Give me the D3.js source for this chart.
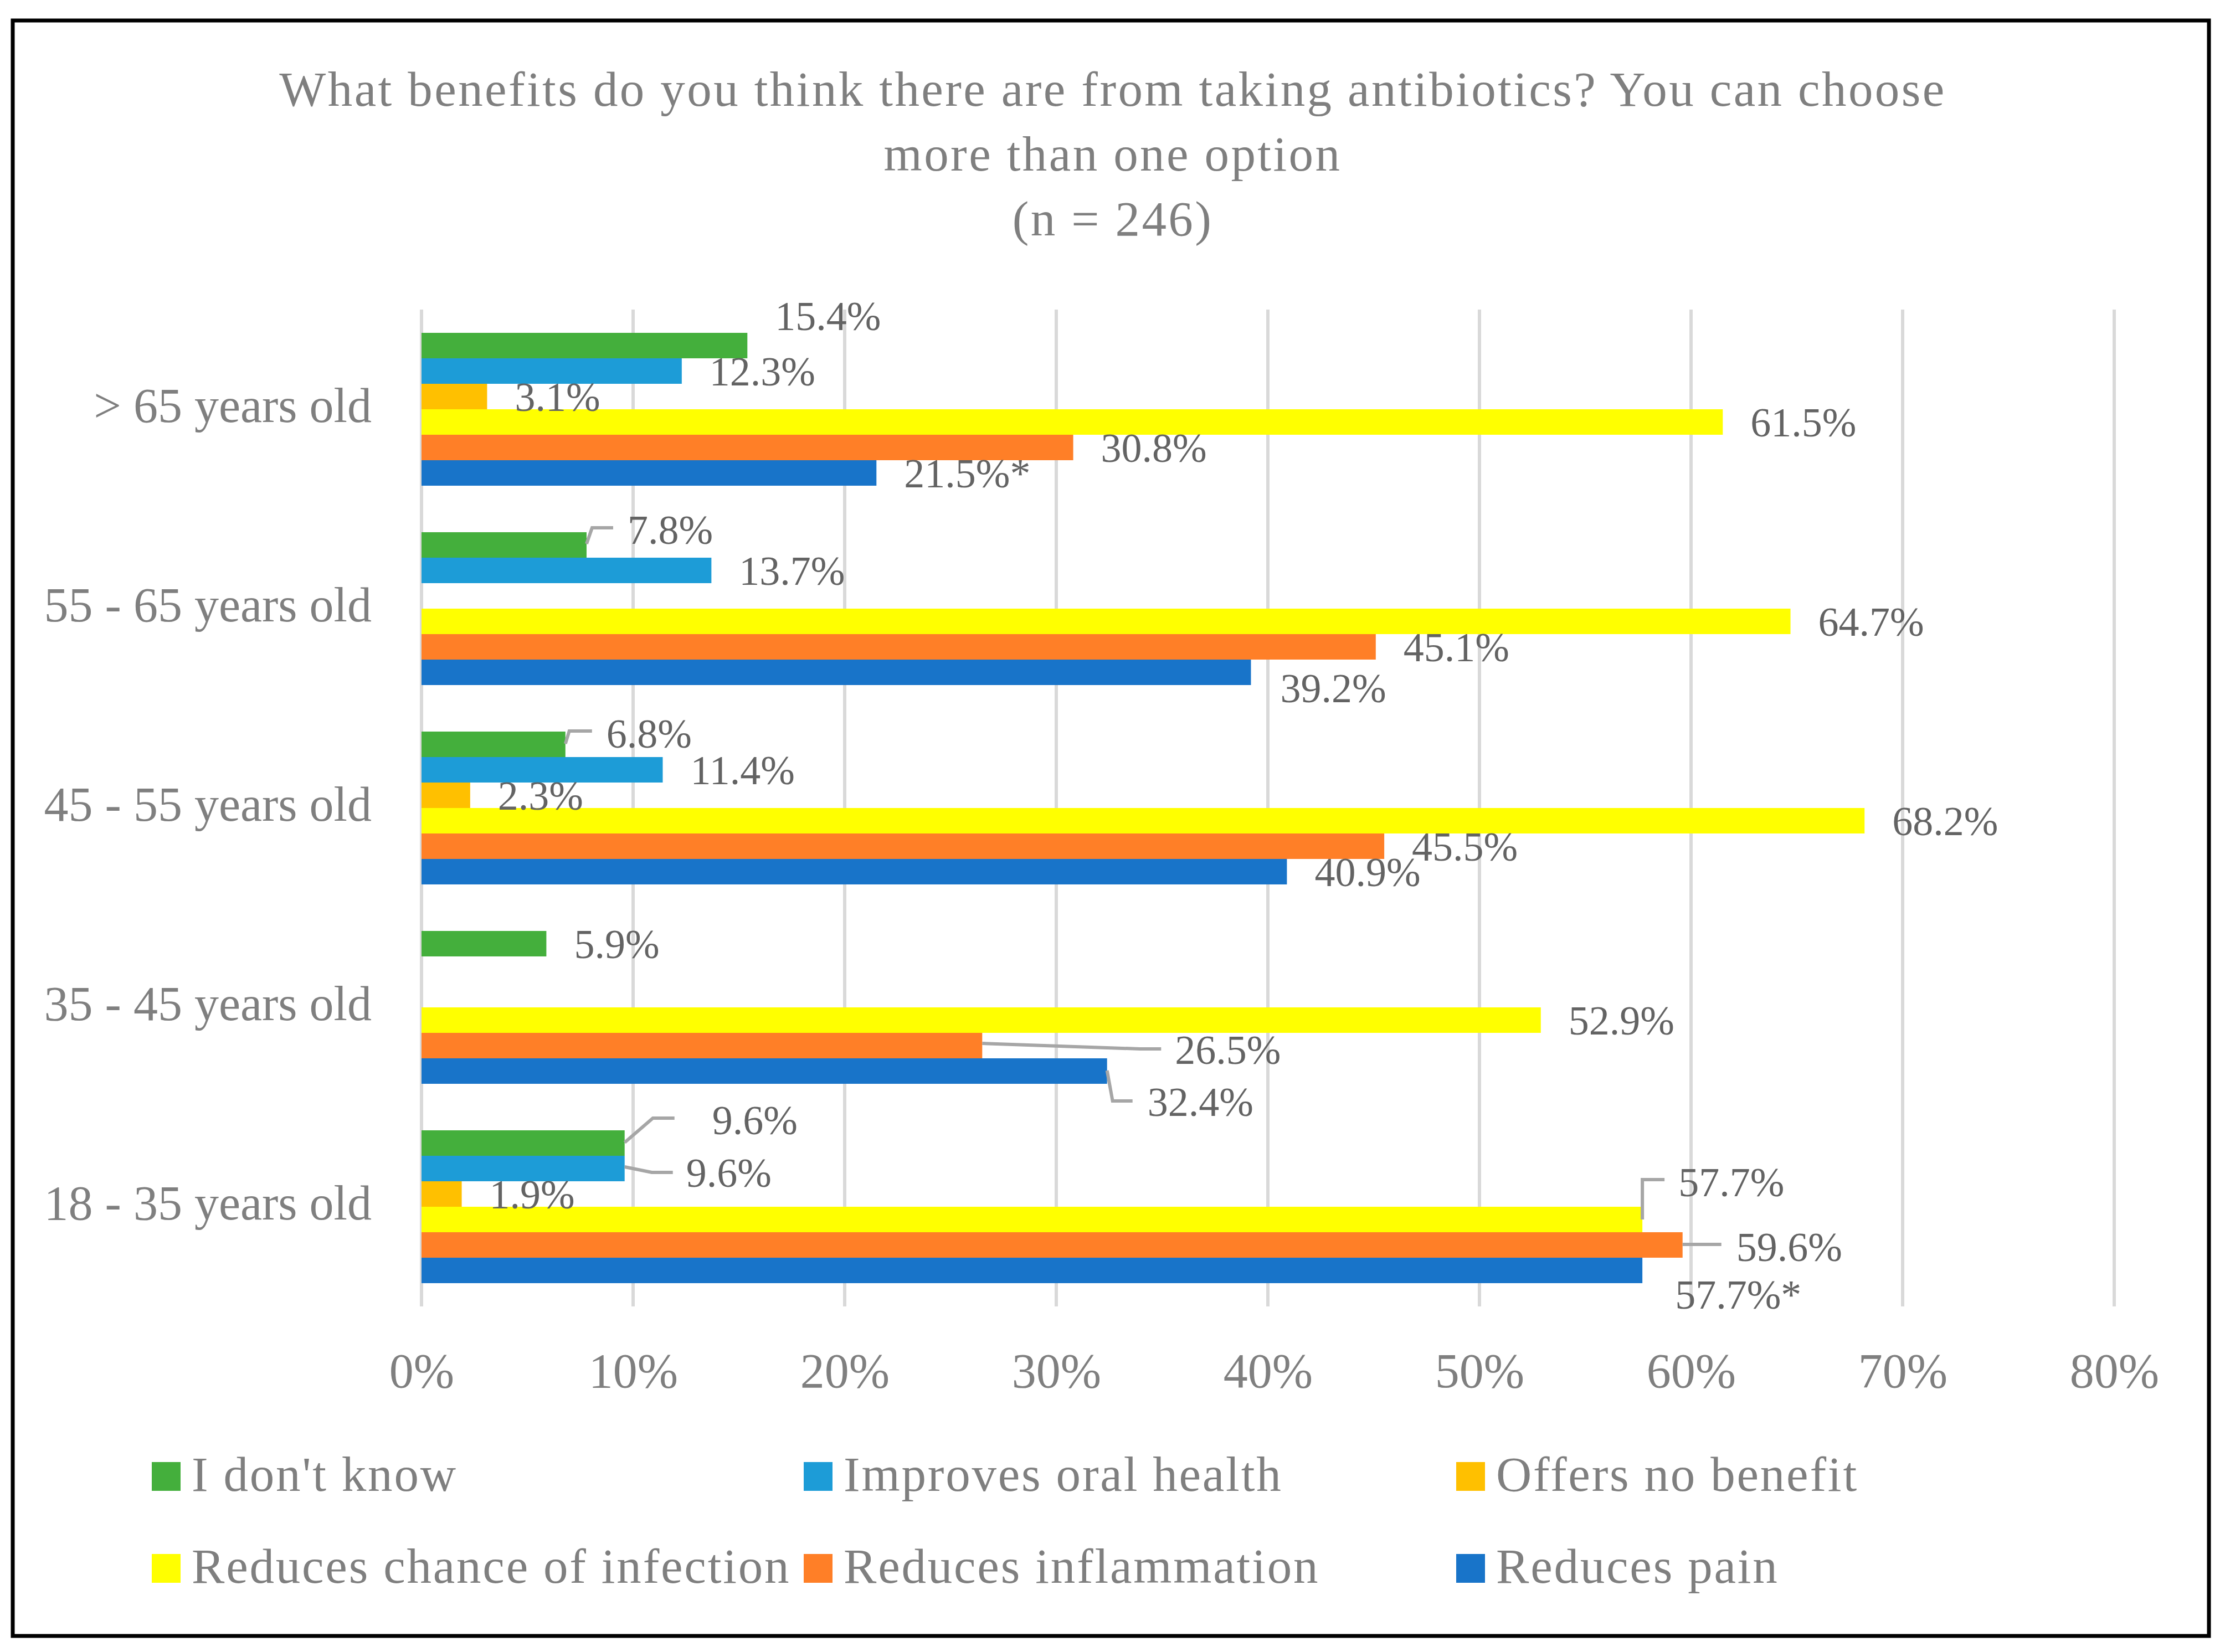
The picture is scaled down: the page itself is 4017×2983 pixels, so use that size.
<!DOCTYPE html>
<html>
<head>
<meta charset="utf-8">
<script src="https://cdn.jsdelivr.net/npm/d3@7"></script>
<style>
  html, body { margin: 0; padding: 0; background: #ffffff; }
  svg { display: block; }
</style>
</head>
<body>
<script>
// ---------------- DATA ----------------
const categories = ["> 65 years old", "55 - 65 years old", "45 - 55 years old", "35 - 45 years old", "18 - 35 years old"];
const seriesNames = ["I don't know", "Improves oral health", "Offers no benefit", "Reduces chance of infection", "Reduces inflammation", "Reduces pain"];
const dontKnow     = [15.4, 7.8, 6.8, 5.9, 9.6];
const oralHealth   = [12.3, 13.7, 11.4, null, 9.6];
const noBenefit    = [3.1, null, 2.3, null, 1.9];
const infection    = [61.5, 64.7, 68.2, 52.9, 57.7];
const inflammation = [30.8, 45.1, 45.5, 26.5, 59.6];
const pain         = [21.5, 39.2, 40.9, 32.4, 57.7];
const painFootnote = ["*", "", "", "", "*"];
const xTicks = [0, 10, 20, 30, 40, 50, 60, 70, 80];
const titleLines = ["What benefits do you think there are from taking antibiotics? You can choose", "more than one option", "(n = 246)"];

// ---------------- STYLE / LAYOUT ----------------
const W = 4017, H = 2983;
const colors = ["#44AF3C", "#1D9CD7", "#FFC000", "#FFFF00", "#FF7F27", "#1874C9"];
const FONT = "'Liberation Serif', 'Times New Roman', serif";
const textGray = "#7F7F7F";
const labelGray = "#636363";

// label manual adjustments (layout only): key = seriesIndex + "_" + categoryIndex
const labelAdjust = {
  "0_0": { dx: 0, dy: -54 },
  "0_1": { dx: 24, dy: -28, leader: [[0, -2], [10, -31], [48, -31]] },
  "0_2": { dx: 24, dy: -20, leader: [[0, -1], [7, -24], [48, -24]] },
  "4_3": { dx: 298, dy: 7, leader: [[0, -4], [285, 6], [323, 6]] },
  "5_3": { dx: 23, dy: 55, leader: [[0, -1], [10, 54], [46, 54]] },
  "0_4": { dx: 108, dy: -42, leader: [[0, -1], [51, -45], [90, -45]] },
  "1_4": { dx: 61, dy: 7, leader: [[0, -3], [49, 7], [87, 7]] },
  "3_4": { dx: 15, dy: -68, leader: [[0, 0], [0, -72], [40, -72]] },
  "4_4": { dx: 47, dy: 3, leader: [[0, -1], [70, -1]] },
  "5_4": { dx: 9, dy: 43 },
  "5_1": { dx: 3, dy: 28 }
};

const seriesValues = [dontKnow, oralHealth, noBenefit, infection, inflammation, pain];

const svg = d3.select("body").append("svg")
  .attr("width", W).attr("height", H)
  .attr("viewBox", `0 0 ${W} ${H}`);

svg.append("rect").attr("x", 0).attr("y", 0).attr("width", W).attr("height", H).attr("fill", "#fff");

// frame
svg.append("rect")
  .attr("x", 23).attr("y", 37).attr("width", 3965).attr("height", 2917)
  .attr("fill", "none").attr("stroke", "#000").attr("stroke-width", 7);

// title
const title = svg.append("text")
  .attr("text-anchor", "middle")
  .attr("font-family", FONT).attr("font-size", 89).attr("fill", textGray)
  .attr("letter-spacing", 3.4);
const titleY = [191, 308, 425];
titleLines.forEach((t, i) => {
  title.append("tspan").attr("x", 2009).attr("y", titleY[i]).text(t);
});

// scales
const plotLeft = 761, plotRight = 3817, plotTop = 559, plotBottom = 2359;
const x = d3.scaleLinear().domain([0, 80]).range([plotLeft, plotRight]);
const y = d3.scaleBand().domain(categories).range([plotTop, plotBottom]).padding(0);
const ySub = d3.scaleBand().domain(seriesNames).range([0, y.bandwidth()]).paddingInner(0).paddingOuter(0.913);

// gridlines
svg.append("g").selectAll("line").data(xTicks).join("line")
  .attr("x1", d => x(d)).attr("x2", d => x(d))
  .attr("y1", plotTop).attr("y2", plotBottom)
  .attr("stroke", "#D9D9D9").attr("stroke-width", 6);

// x tick labels
const xAxis = d3.axisBottom(x).tickValues(xTicks).tickFormat(d => d + "%").tickSize(0).tickPadding(0);
const gx = svg.append("g").attr("transform", `translate(0, 2505)`).call(xAxis);
gx.select(".domain").remove();
gx.selectAll("text")
  .attr("y", 0).attr("dy", 0)
  .attr("font-family", FONT).attr("font-size", 88).attr("fill", textGray);

// category labels
const yAxis = d3.axisLeft(y).tickSize(0).tickPadding(0);
const gy = svg.append("g").attr("transform", `translate(671, 0)`).call(yAxis);
gy.select(".domain").remove();
gy.selectAll("text")
  .attr("x", 0).attr("dy", 23).attr("dominant-baseline", "auto")
  .attr("font-family", FONT).attr("font-size", 88).attr("fill", textGray);

// flatten bar data
const bars = [];
seriesValues.forEach((vals, si) => {
  vals.forEach((v, ci) => {
    if (v === null || v === undefined) return;
    bars.push({ si, ci, v, series: seriesNames[si], cat: categories[ci] });
  });
});

// bars
svg.append("g").selectAll("rect").data(bars).join("rect")
  .attr("x", x(0))
  .attr("y", d => y(d.cat) + ySub(d.series))
  .attr("width", d => x(d.v) - x(0))
  .attr("height", ySub.bandwidth())
  .attr("fill", d => colors[d.si]);

// leader lines
const leaderData = bars.filter(d => labelAdjust[d.si + "_" + d.ci] && labelAdjust[d.si + "_" + d.ci].leader);
svg.append("g").selectAll("path").data(leaderData).join("path")
  .attr("d", d => {
    const bx = x(d.v), by = y(d.cat) + ySub(d.series) + ySub.bandwidth() / 2;
    const pts = labelAdjust[d.si + "_" + d.ci].leader.map(p => [bx + p[0], by + p[1]]);
    return d3.line()(pts);
  })
  .attr("fill", "none").attr("stroke", "#A6A6A6").attr("stroke-width", 6)
  .attr("stroke-linejoin", "miter");

// data labels
svg.append("g").selectAll("text").data(bars).join("text")
  .attr("x", d => {
    const a = labelAdjust[d.si + "_" + d.ci] || { dx: 0 };
    return x(d.v) + 50 + a.dx;
  })
  .attr("y", d => {
    const a = labelAdjust[d.si + "_" + d.ci] || { dy: 0 };
    return y(d.cat) + ySub(d.series) + ySub.bandwidth() / 2 + 26 + a.dy;
  })
  .attr("font-family", FONT).attr("font-size", 74).attr("fill", labelGray)
  .text(d => d.v.toFixed(1) + "%" + (d.si === 5 ? painFootnote[d.ci] : ""));

// legend
const legendCols = [274, 1451, 2629];
const legendRows = [2692, 2858];
const lg = svg.append("g").selectAll("g").data(seriesNames).join("g")
  .attr("transform", (d, i) => `translate(${legendCols[i % 3]}, ${legendRows[Math.floor(i / 3)]})`);
lg.append("rect").attr("x", 0).attr("y", -52).attr("width", 52).attr("height", 52)
  .attr("fill", (d, i) => colors[i]);
lg.append("text").attr("x", 72).attr("y", 0)
  .attr("font-family", FONT).attr("font-size", 89).attr("fill", textGray)
  .attr("letter-spacing", 2.8)
  .text(d => d);
</script>
</body>
</html>
